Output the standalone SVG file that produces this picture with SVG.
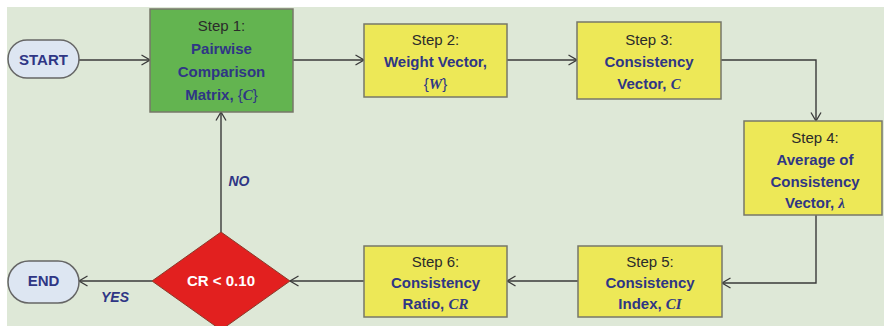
<svg xmlns="http://www.w3.org/2000/svg" width="884" height="326" viewBox="0 0 884 326">
<defs>
<marker id="arr" viewBox="0 0 10 12" refX="9.5" refY="6" markerWidth="10" markerHeight="12" markerUnits="userSpaceOnUse" orient="auto">
<path d="M1,1 L9.5,6 L1,11" fill="none" stroke="#3a3a3a" stroke-width="1.3"/>
</marker>
<style>
.box{stroke:#77776a;stroke-width:1.5}
.yel{fill:#ede857}
.grn{fill:#63b450}
.pill{fill:#dde6f2;stroke:#666;stroke-width:1.5}
.conn{fill:none;stroke:#3a3a3a;stroke-width:1.4}
text{font-family:"Liberation Sans",Arial,sans-serif;font-size:15px;text-anchor:middle}
.st{fill:#2b2b2b}
.b{font-weight:bold;fill:#2f3685}
.v{font-family:"Liberation Serif","Times New Roman",serif;font-style:italic;font-weight:bold}
.lbl{font-weight:bold;font-style:italic;fill:#2f3685;font-size:14px}
</style>
</defs>
<rect x="7" y="7" width="877" height="319" fill="#dee8d7"/>
<g id="connectors">
<path class="conn" d="M79,60 L150,60" marker-end="url(#arr)"/>
<path class="conn" d="M293,60 L364,60" marker-end="url(#arr)"/>
<path class="conn" d="M507,60 L577,60" marker-end="url(#arr)"/>
<path class="conn" d="M721,60 L816,60 L816,121" marker-end="url(#arr)"/>
<path class="conn" d="M816,215 L816,283 L722,283" marker-end="url(#arr)"/>
<path class="conn" d="M578,281 L507,281" marker-end="url(#arr)"/>
<path class="conn" d="M364,281 L290,281" marker-end="url(#arr)"/>
<path class="conn" d="M152,281 L79,281" marker-end="url(#arr)"/>
<path class="conn" d="M221,232 L221,112" marker-end="url(#arr)"/>
<text class="lbl" x="239" y="186">NO</text>
<text class="lbl" x="115" y="302">YES</text>
</g>
<g id="start">
<rect class="pill" x="8" y="40" width="71" height="38" rx="19"/>
<text class="b" x="43.5" y="65">START</text>
</g>
<g id="step1">
<rect class="box grn" x="150" y="9" width="143" height="103"/>
<text class="st" x="221.5" y="31">Step 1:</text>
<text class="b" x="221.5" y="54">Pairwise</text>
<text class="b" x="221.5" y="77">Comparison</text>
<text class="b" x="221.5" y="100">Matrix, <tspan font-weight="normal">{</tspan><tspan class="v">C</tspan><tspan font-weight="normal">}</tspan></text>
</g>
<g id="step2">
<rect class="box yel" x="364" y="24" width="143" height="73"/>
<text class="st" x="435.5" y="45">Step 2:</text>
<text class="b" x="435.5" y="67">Weight Vector,</text>
<text class="b" x="435.5" y="89"><tspan font-weight="normal">{</tspan><tspan class="v">W</tspan><tspan font-weight="normal">}</tspan></text>
</g>
<g id="step3">
<rect class="box yel" x="577" y="22" width="144" height="77"/>
<text class="st" x="649" y="45">Step 3:</text>
<text class="b" x="649" y="67">Consistency</text>
<text class="b" x="649" y="89">Vector, <tspan class="v">C</tspan></text>
</g>
<g id="step4">
<rect class="box yel" x="744" y="121" width="138" height="94"/>
<text class="st" x="815" y="143">Step 4:</text>
<text class="b" x="815" y="165">Average of</text>
<text class="b" x="815" y="187">Consistency</text>
<text class="b" x="815" y="208">Vector, <tspan class="v">λ</tspan></text>
</g>
<g id="step5">
<rect class="box yel" x="578" y="246" width="144" height="71"/>
<text class="st" x="650" y="267">Step 5:</text>
<text class="b" x="650" y="288">Consistency</text>
<text class="b" x="650" y="309">Index, <tspan class="v">CI</tspan></text>
</g>
<g id="step6">
<rect class="box yel" x="364" y="246" width="143" height="71"/>
<text class="st" x="435.5" y="267">Step 6:</text>
<text class="b" x="435.5" y="288">Consistency</text>
<text class="b" x="435.5" y="309">Ratio,  <tspan class="v">CR</tspan></text>
</g>
<g id="decision">
<polygon points="221,232 290,281 221,330 152,281" fill="#e2201f" stroke="#8a3a2a" stroke-width="1"/>
<text x="221" y="286" style="font-weight:bold;fill:#ffffff">CR &lt; 0.10</text>
</g>
<g id="end">
<rect class="pill" x="8" y="261" width="71" height="42" rx="21"/>
<text class="b" x="43.5" y="286">END</text>
</g>
</svg>
